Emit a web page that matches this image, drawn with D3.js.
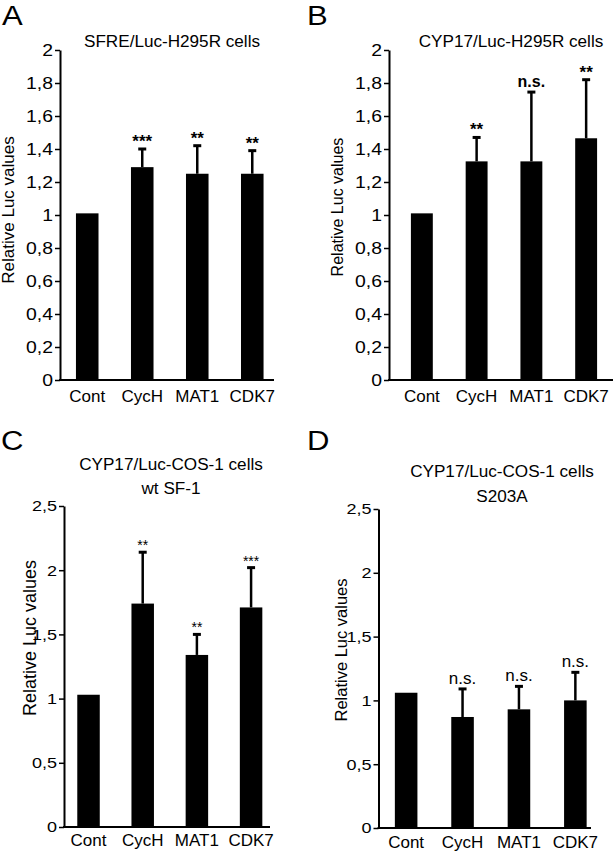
<!DOCTYPE html>
<html lang="en">
<head>
    <meta charset="utf8">
    <script type="text/javascript" src="https://d3js.org/d3.v7.min.js"></script>
    <title>Relative Luc values</title>
    <style>
        body { margin: 0; background: #fff; }
        text { font-family: "Liberation Sans", Arial, Helvetica, sans-serif; fill: #000; }
    </style>
</head>
<body>
    <div class="figure"></div>
<script type="text/javascript">
    // data
    var categories = ["Cont", "CycH", "MAT1", "CDK7"];

    var meanA = [1.01, 1.29, 1.25, 1.25];
    var errA  = [0, 0.11, 0.17, 0.14];
    var sigA  = ["", "***", "**", "**"];

    var meanB = [1.01, 1.325, 1.325, 1.465];
    var errB  = [0, 0.145, 0.42, 0.355];
    var sigB  = ["", "**", "n.s.", "**"];

    var meanC = [1.03, 1.74, 1.34, 1.71];
    var errC  = [0, 0.40, 0.16, 0.31];
    var sigC  = ["", "**", "**", "***"];

    var meanD = [1.06, 0.87, 0.93, 1.0];
    var errD  = [0, 0.22, 0.18, 0.22];
    var sigD  = ["", "n.s.", "n.s.", "n.s."];

    var ticksAB = [0, 0.2, 0.4, 0.6, 0.8, 1, 1.2, 1.4, 1.6, 1.8, 2];
    var ticksCD = [0, 0.5, 1, 1.5, 2, 2.5];

    var titleA = ["SFRE/Luc-H295R cells"];
    var titleB = ["CYP17/Luc-H295R cells"];
    var titleC = ["CYP17/Luc-COS-1 cells", "wt SF-1"];
    var titleD = ["CYP17/Luc-COS-1 cells", "S203A"];
    var yLabel = "Relative Luc values";

    var width = 613, height = 853;
    var svg = d3.select("div.figure").append("svg")
        .attr("width", width)
        .attr("height", height);

    // comma decimals
    var fmt = function(d){ return String(+d.toFixed(1)).replace(".", ","); };

    // stretch text horizontally (the original lettering is wide)
    function stretch(sel, k){
        sel.each(function(){
            var w = this.getComputedTextLength();
            if (w > 0) d3.select(this).attr("textLength", w * k).attr("lengthAdjust", "spacingAndGlyphs");
        });
    }

    function panel(p){
        var g = svg.append("g");
        var rows = p.mean.map(function(m, i){ return {cat: categories[i], mean: m, err: p.err[i], sig: p.sig[i]}; });

        var y = d3.scaleLinear().domain([0, p.yMax]).range([p.y0, p.yTop]);
        var x = d3.scaleBand().domain(categories).range(p.xRange)
            .paddingInner(p.pi).paddingOuter(p.po);
        var bw = x.bandwidth();

        // bars
        g.selectAll("rect.bar").data(rows).enter().append("rect")
            .attr("class", "bar")
            .attr("x", function(d){ return x(d.cat); })
            .attr("y", function(d){ return y(d.mean); })
            .attr("width", bw)
            .attr("height", function(d){ return p.y0 - y(d.mean); })
            .attr("fill", "#000");

        // upper error bars
        var eb = rows.filter(function(d){ return d.err > 0; });
        g.selectAll("line.err").data(eb).enter().append("line")
            .attr("x1", function(d){ return x(d.cat) + bw / 2; })
            .attr("x2", function(d){ return x(d.cat) + bw / 2; })
            .attr("y1", function(d){ return y(d.mean); })
            .attr("y2", function(d){ return y(d.mean + d.err); })
            .attr("stroke", "#000").attr("stroke-width", 2.5);
        g.selectAll("line.cap").data(eb).enter().append("line")
            .attr("x1", function(d){ return x(d.cat) + bw / 2 - 4; })
            .attr("x2", function(d){ return x(d.cat) + bw / 2 + 4; })
            .attr("y1", function(d){ return y(d.mean + d.err); })
            .attr("y2", function(d){ return y(d.mean + d.err); })
            .attr("stroke", "#000").attr("stroke-width", 3);

        // significance marks
        g.selectAll("text.sig").data(rows.filter(function(d){ return d.sig; })).enter().append("text")
            .attr("x", function(d){ return x(d.cat) + bw / 2; })
            .attr("y", function(d){ return y(d.mean + d.err) + (d.sig == "n.s." ? p.nsDy : p.starDy); })
            .attr("text-anchor", "middle")
            .attr("font-size", function(d){ return d.sig == "n.s." ? p.nsSize : p.starSize; })
            .attr("font-weight", p.sigWeight)
            .text(function(d){ return d.sig; });

        // y axis
        var ya = g.append("g")
            .attr("transform", "translate(" + p.axisX + ",0)")
            .call(d3.axisLeft(y).tickValues(p.ticks).tickFormat(fmt).tickSize(5).tickSizeOuter(0).tickPadding(2));
        ya.select(".domain").attr("stroke-width", 2);
        ya.selectAll(".tick line").attr("stroke-width", 1.5);
        ya.selectAll(".tick text")
            .attr("font-family", "Liberation Sans, Arial, sans-serif")
            .attr("font-size", p.tickSize)
            .call(stretch, p.tickStretch);

        // x axis line and category labels
        g.append("line")
            .attr("x1", p.axisX - 1).attr("x2", p.xEnd)
            .attr("y1", p.y0).attr("y2", p.y0)
            .attr("stroke", "#000").attr("stroke-width", 2);
        var xa = g.append("g")
            .attr("transform", "translate(0," + p.y0 + ")")
            .call(d3.axisBottom(x).tickSize(0).tickPadding(p.xlabDy - 0.71 * 17));
        xa.select(".domain").remove();
        xa.selectAll(".tick text")
            .attr("font-family", "Liberation Sans, Arial, sans-serif")
            .attr("font-size", 17);

        // y label
        g.append("text")
            .attr("transform", "translate(" + p.ylabX + "," + p.ylabY + ") rotate(-90)")
            .attr("text-anchor", "middle")
            .attr("font-size", p.ylabSize)
            .text(yLabel);

        // title lines
        g.selectAll("text.title").data(p.title).enter().append("text")
            .attr("x", p.titleX)
            .attr("y", function(d, i){ return p.titleY[i]; })
            .attr("text-anchor", "middle")
            .attr("font-size", 16)
            .text(function(d){ return d; })
            .call(stretch, 1.07);

        // panel letter
        g.append("text")
            .attr("x", p.letterX).attr("y", p.letterY)
            .attr("font-size", 27)
            .text(p.letter)
            .call(stretch, 1.15);
    }

    panel({letter: "A", letterX: 2, letterY: 24.5, mean: meanA, err: errA, sig: sigA,
        yMax: 2, ticks: ticksAB, y0: 380, yTop: 50, axisX: 60, xRange: [60, 279.5], pi: 0.59, po: 0.29, xEnd: 274,
        tickSize: 17, tickStretch: 1.14, xlabDy: 22, ylabX: 14, ylabY: 210, ylabSize: 17,
        title: titleA, titleX: 172, titleY: [47],
        starSize: 17, nsSize: 16, sigWeight: "bold", starDy: -2, nsDy: -5});

    panel({letter: "B", letterX: 307, letterY: 24.5, mean: meanB, err: errB, sig: sigB,
        yMax: 2, ticks: ticksAB, y0: 380, yTop: 50, axisX: 389, xRange: [389, 619], pi: 0.6, po: 0.4, xEnd: 613,
        tickSize: 17, tickStretch: 1.14, xlabDy: 22, ylabX: 343, ylabY: 207, ylabSize: 16,
        title: titleB, titleX: 511, titleY: [47],
        starSize: 17, nsSize: 16, sigWeight: "bold", starDy: -2, nsDy: -5});

    panel({letter: "C", letterX: 1, letterY: 450, mean: meanC, err: errC, sig: sigC,
        yMax: 2.5, ticks: ticksCD, y0: 827, yTop: 506, axisX: 64, xRange: [64, 275.6], pi: 0.585, po: 0.245, xEnd: 270,
        tickSize: 15, tickStretch: 1.2, xlabDy: 19, ylabX: 36, ylabY: 638, ylabSize: 18,
        title: titleC, titleX: 171, titleY: [470, 494],
        starSize: 14, nsSize: 16, sigWeight: "normal", starDy: -2, nsDy: -5});

    panel({letter: "D", letterX: 307, letterY: 450, mean: meanD, err: errD, sig: sigD,
        yMax: 2.5, ticks: ticksCD, y0: 828, yTop: 509, axisX: 378.5, xRange: [378.5, 603], pi: 0.6, po: 0.29, xEnd: 591,
        tickSize: 15, tickStretch: 1.2, xlabDy: 20, ylabX: 347, ylabY: 650, ylabSize: 16.5,
        title: titleD, titleX: 502, titleY: [477, 502],
        starSize: 14, nsSize: 17, sigWeight: "normal", starDy: -2, nsDy: -5});
</script>
</body>
</html>
